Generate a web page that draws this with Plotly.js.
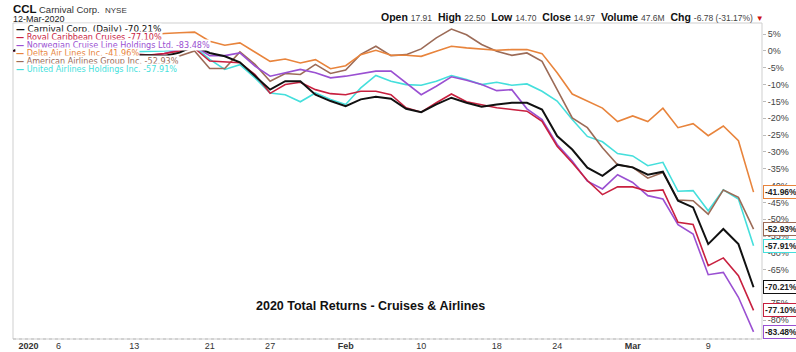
<!DOCTYPE html>
<html>
<head>
<meta charset="utf-8">
<script src="https://cdn.plot.ly/plotly-3.0.1.min.js"></script>
<style>
  html, body { margin: 0; padding: 0; background: #fff; }
  #chart { width: 796px; height: 352px; }
</style>
</head>
<body>
<div id="chart"></div>
<script>
// ---- data ----
const dates = [
  '2019-12-31','2020-01-02','2020-01-03','2020-01-06','2020-01-07','2020-01-08','2020-01-09','2020-01-10',
  '2020-01-13','2020-01-14','2020-01-15','2020-01-16','2020-01-17','2020-01-21','2020-01-22','2020-01-23',
  '2020-01-24','2020-01-27','2020-01-28','2020-01-29','2020-01-30','2020-01-31','2020-02-03','2020-02-04',
  '2020-02-05','2020-02-06','2020-02-07','2020-02-10','2020-02-11','2020-02-12','2020-02-13','2020-02-14',
  '2020-02-18','2020-02-19','2020-02-20','2020-02-21','2020-02-24','2020-02-25','2020-02-26','2020-02-27',
  '2020-02-28','2020-03-02','2020-03-03','2020-03-04','2020-03-05','2020-03-06','2020-03-09','2020-03-10',
  '2020-03-11','2020-03-12'
];

const ccl  = [0, 1.9, 0.5, -0.1, -0.8, -0.8, -0.9, -1.8, -1.3, -1.3,
  -1.5, -0.5, 1.5, -0.6, -1.6, -3.4, -7.5, -11.5, -9.0, -9.0,
  -13.0, -14.9, -16.4, -14.4, -13.6, -14.2, -17.2, -18.2, -15.9, -13.9,
  -15.4, -16.6, -15.9, -15.4, -15.4, -17.4, -25.3, -29.3, -34.7, -37.1,
  -33.8, -34.6, -36.8, -35.9, -44.5, -46.5, -57.4, -52.9, -57.4, -70.21];

const rcl  = [0, 1.0, -0.3, -1.5, -1.9, -1.7, -0.5, -1.3, -0.9, -1.2,
  -0.8, 0.0, 0.8, -3.0, -3.2, -3.5, -7.0, -12.6, -10.0, -9.3,
  -11.5, -12.7, -13.0, -12.0, -12.0, -13.0, -16.9, -18.2, -15.4, -12.8,
  -15.1, -15.9, -16.9, -17.4, -17.9, -20.9, -28.3, -33.2, -38.5, -42.7,
  -40.4, -40.4, -41.7, -41.3, -50.9, -51.6, -63.8, -61.5, -66.8, -77.10];

const nclh = [0, 1.2, -0.5, -1.0, -1.5, -1.0, -0.6, -1.5, -1.2, -1.4,
  -0.8, 0.4, 1.4, -1.4, -1.4, -0.6, -4.5, -7.5, -6.5, -5.5,
  -6.5, -8.0, -7.5, -6.7, -6.0, -6.0, -9.5, -13.0, -10.5, -7.7,
  -8.7, -10.0, -11.8, -11.5, -17.2, -20.4, -27.8, -32.7, -38.7, -41.0,
  -36.8, -39.1, -43.0, -44.0, -51.6, -54.4, -66.5, -65.8, -73.2, -83.48];

const dal  = [0, 0.9, 0.2, 0.6, 1.6, 3.5, 2.8, 2.4, 4.2, 4.7,
  5.2, 5.4, 5.6, 2.9, 1.7, 2.4, -0.4, -3.1, -2.4, -3.6,
  -2.6, -5.3, -4.4, -1.1, 0.2, -1.3, -1.3, -1.6, -0.1, 1.4,
  0.9, 0.6, 0.2, 0.4, 0.4, -0.8, -6.5, -12.8, -14.9, -17.0,
  -21.0, -19.3, -21.0, -17.0, -22.8, -21.6, -25.2, -22.3, -26.7, -41.96];

const aal  = [0, 1.4, -3.6, -4.7, -5.1, -2.9, -2.5, -4.7, -2.2, -2.8,
  -4.0, -1.5, 0.0, -5.2, -5.2, -0.3, -4.0, -9.0, -6.7, -7.0,
  -4.0, -6.7, -5.7, -1.0, 1.4, -1.4, -1.1, 0.6, 3.9, 6.5,
  4.8, 1.9, -0.1, -1.3, -0.6, -3.1, -11.5, -19.9, -22.8, -28.8,
  -33.8, -34.6, -37.8, -36.1, -44.3, -44.5, -48.5, -41.3, -43.5, -52.93];

const ual  = [0, 0.5, -1.0, -0.5, -0.8, 0.3, 0.8, 0.5, -0.2, -0.1,
  0.0, 0.4, 1.2, -2.5, -5.5, -4.1, -8.0, -12.5, -13.0, -15.1,
  -12.5, -14.4, -15.9, -11.0, -7.3, -9.0, -10.0, -10.2, -9.0, -7.3,
  -8.5, -10.0, -9.3, -10.2, -9.8, -12.0, -14.9, -20.4, -25.4, -27.0,
  -30.5, -31.2, -34.1, -33.1, -41.7, -41.5, -47.5, -41.3, -44.0, -57.91];

const seriesNames = ['Carnival Corp. (Daily)', 'Royal Caribbean Cruises', 'Norwegian Cruise Line Holdings Ltd.',
                     'Delta Air Lines Inc.', 'American Airlines Group Inc.', 'United Airlines Holdings Inc.'];
const seriesData  = [ccl, rcl, nclh, dal, aal, ual];
const finalLabels = ['-70.21%', '-77.10%', '-83.48%', '-41.96%', '-52.93%', '-57.91%'];

const xTickVals = ['2020-01-02','2020-01-06','2020-01-13','2020-01-21','2020-01-27','2020-02-03',
                   '2020-02-10','2020-02-18','2020-02-24','2020-03-02','2020-03-09'];
const xTickText = ['<b>2020</b>','6','13','21','27','<b>Feb</b>','10','18','24','<b>Mar</b>','9'];

const yTickVals = [5, 0, -5, -10, -15, -20, -25, -30, -35, -40, -45, -50, -55, -60, -65, -70, -75, -80];
const yTickText = ['5%','0%','-5%','-10%','-15%','-20%','-25%','-30%','-35%','-40%','-45%','-50%',
                   '-55%','-60%','-65%','-70%','-75%','-80%'];

// ---- styling ----
const colors = ['#111111', '#c8203f', '#9a50d2', '#e8843c', '#9c6b57', '#45dfdc'];
const widths = [2, 1.6, 1.6, 1.6, 1.6, 1.6];

// pixel helpers for paper coordinates (plot area: x 13..762, y 23..339)
const PL = 13, PR = 762, PT = 23, PB = 339;
const px = v => (v - PL) / (PR - PL);
const py = v => (PB - v) / (PB - PT);

const drawOrder = [5, 4, 3, 2, 1, 0];
const traces = drawOrder.map(i => ({
  type: 'scatter', mode: 'lines',
  x: dates, y: seriesData[i], name: seriesNames[i],
  line: { color: colors[i], width: widths[i] },
  hoverinfo: 'skip'
}));

const annotations = [];
// header
annotations.push({ xref:'paper', yref:'paper', x:px(11), y:py(9), xanchor:'left', yanchor:'middle', showarrow:false,
  text:'<b>CCL</b>', font:{ family:'Arial, Liberation Sans', size:11.5, color:'#111' } });
annotations.push({ xref:'paper', yref:'paper', x:px(37), y:py(9.5), xanchor:'left', yanchor:'middle', showarrow:false,
  text:'Carnival Corp.  <span style="font-size:8px">NYSE</span>', font:{ family:'Arial, Liberation Sans', size:9.5, color:'#333' } });
annotations.push({ xref:'paper', yref:'paper', x:px(11), y:py(19.5), xanchor:'left', yanchor:'middle', showarrow:false,
  text:'12-Mar-2020', font:{ family:'Arial, Liberation Sans', size:9, color:'#222' } });

const hdr = [['Open','17.91'],['High','22.50'],['Low','14.70'],['Close','14.97'],['Volume','47.6M'],['Chg','-6.78 (-31.17%)']];
const hdrText = hdr.map(p => '<b>' + p[0] + '</b> <span style="font-size:8.5px;color:#444">' + p[1] + '</span>').join('  ')
  + ' <span style="color:#cc1111;font-size:8px">▼</span>';
annotations.push({ xref:'paper', yref:'paper', x:px(766), y:py(17), xanchor:'right', yanchor:'middle', showarrow:false,
  text:hdrText, font:{ family:'Arial, Liberation Sans', size:10.5, color:'#111' } });

// chart caption
annotations.push({ xref:'paper', yref:'paper', x:px(370), y:py(306), xanchor:'center', yanchor:'middle', showarrow:false,
  text:'<b>2020 Total Returns - Cruises & Airlines</b>', font:{ family:'Arial, Liberation Sans', size:12.5, color:'#111' } });

// legend rows
const rowY = [29, 37, 45, 53, 61, 69];
seriesNames.forEach((n, i) => {
  annotations.push({ xref:'paper', yref:'paper', x:px(15), y:py(rowY[i]), xanchor:'left', yanchor:'middle', showarrow:false,
    text:'<b>—</b> ' + n + ' ' + finalLabels[i], bgcolor:'#ffffff', borderpad:0,
    font:{ family:'DejaVu Sans, Verdana', size: i === 0 ? 8.8 : 8.1, color: colors[i] } });
});

// end-value tags
seriesData.forEach((s, i) => {
  annotations.push({ xref:'paper', yref:'y', x:1, y:s[s.length - 1], xanchor:'left', yanchor:'middle', xshift:1, showarrow:false,
    text:'<b>' + finalLabels[i] + '</b>', bgcolor:'#ffffff', bordercolor:colors[i], borderwidth:1, borderpad:1,
    font:{ family:'Arial, Liberation Sans', size:8.5, color:'#222' } });
});

const layout = {
  width: 796, height: 352,
  margin: { l: PL, r: 796 - PR, t: PT, b: 352 - PB, pad: 0 },
  paper_bgcolor: '#ffffff', plot_bgcolor: '#ffffff',
  showlegend: false,
  xaxis: {
    type: 'category', range: [-0.02, 49.56], showgrid: false, zeroline: false,
    tickmode: 'array', tickvals: xTickVals, ticktext: xTickText, ticks: '',
    tickfont: { family: 'Arial, Liberation Sans', size: 9, color: '#333' },
    showline: false, fixedrange: true
  },
  yaxis: {
    side: 'right', range: [-85.6, 8.3], showgrid: false, zeroline: false,
    tickmode: 'array', tickvals: yTickVals, ticktext: yTickText,
    ticks: 'outside', ticklen: 3, tickcolor: '#bbb',
    tickfont: { family: 'Arial, Liberation Sans', size: 9, color: '#444' },
    showline: false, fixedrange: true
  },
  shapes: [
    { type:'rect', xref:'paper', yref:'paper', x0:0, x1:1, y0:0, y1:1, line:{ color:'#cfcfcf', width:1 }, layer:'below' },
    { type:'line', xref:'paper', yref:'paper', x0:0, x1:1, y0:0, y1:0, line:{ color:'#bdbdbd', width:1, dash:'dot' } }
  ],
  annotations: annotations
};

Plotly.newPlot('chart', traces, layout, { displayModeBar: false, staticPlot: true });
</script>
</body>
</html>
